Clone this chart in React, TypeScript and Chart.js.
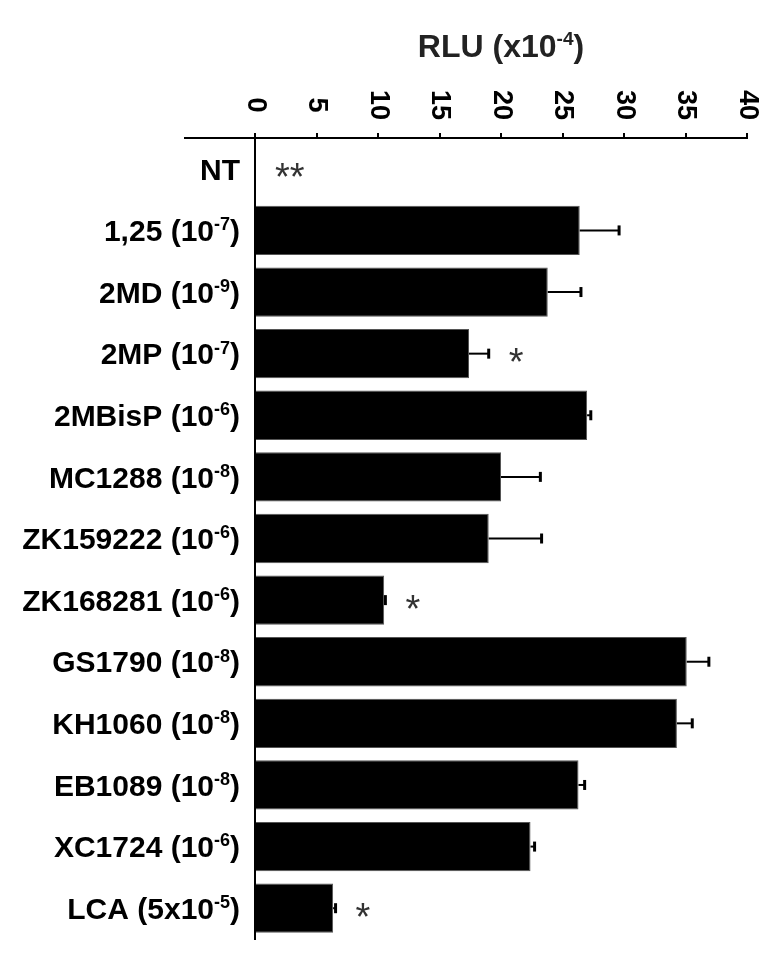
import React, { useEffect, useRef } from "react";
import { Chart, registerables } from "chart.js";

Chart.register(...registerables);

// ---- data ----
const categories = [
  "NT",
  "1,25 (10^{-7})",
  "2MD (10^{-9})",
  "2MP (10^{-7})",
  "2MBisP (10^{-6})",
  "MC1288 (10^{-8})",
  "ZK159222 (10^{-6})",
  "ZK168281 (10^{-6})",
  "GS1790 (10^{-8})",
  "KH1060 (10^{-8})",
  "EB1089 (10^{-8})",
  "XC1724 (10^{-6})",
  "LCA (5x10^{-5})",
];
const rluValues = [0, 26.4, 23.8, 17.4, 27.0, 20.0, 19.0, 10.5, 35.1, 34.3, 26.3, 22.4, 6.35];
const rluErrors = [0, 3.2, 2.7, 1.6, 0.3, 3.2, 4.3, 0.1, 1.8, 1.25, 0.5, 0.33, 0.2];
const significance = ["**", "", "", "*", "", "", "", "*", "", "", "", "", "*"];
const xTickValues = [0, 5, 10, 15, 20, 25, 30, 35, 40];
const axisTitle = "RLU (x10^{-4})";

const FONT = '"Liberation Sans", Arial, Helvetica, sans-serif';

type Part = { t: string; sup: boolean };
function parseRich(s: string): Part[] {
  const parts: Part[] = [];
  const re = /\^\{([^}]*)\}/g;
  let last = 0;
  let m: RegExpExecArray | null;
  while ((m = re.exec(s))) {
    if (m.index > last) parts.push({ t: s.slice(last, m.index), sup: false });
    parts.push({ t: m[1], sup: true });
    last = re.lastIndex;
  }
  if (last < s.length) parts.push({ t: s.slice(last), sup: false });
  return parts;
}

function drawRich(
  ctx: CanvasRenderingContext2D,
  s: string,
  x: number,
  y: number,
  size: number,
  align: "left" | "right" | "center",
  color: string
) {
  const parts = parseRich(s);
  const nf = `bold ${size}px ${FONT}`;
  const sf = `bold ${Math.round(size * 0.6)}px ${FONT}`;
  const widths = parts.map((p) => {
    ctx.font = p.sup ? sf : nf;
    return ctx.measureText(p.t).width;
  });
  const total = widths.reduce((a, b) => a + b, 0);
  let cx = align === "right" ? x - total : align === "center" ? x - total / 2 : x;
  ctx.fillStyle = color;
  ctx.textAlign = "left";
  ctx.textBaseline = "alphabetic";
  parts.forEach((p, i) => {
    ctx.font = p.sup ? sf : nf;
    ctx.fillText(p.t, cx, p.sup ? y - size * 0.36 : y);
    cx += widths[i];
  });
}

const annotPlugin = {
  id: "annot",
  afterDatasetsDraw(chart: any) {
    const { ctx, scales } = chart;
    const xs = scales.x;
    const ys = scales.y;
    ctx.save();
    ctx.strokeStyle = "#000";
    rluValues.forEach((v, i) => {
      const e = rluErrors[i];
      if (!e) return;
      const yc = ys.getPixelForValue(i);
      const x0 = xs.getPixelForValue(v);
      const x1 = xs.getPixelForValue(v + e);
      ctx.lineWidth = 2;
      ctx.beginPath();
      ctx.moveTo(x0, yc);
      ctx.lineTo(x1, yc);
      ctx.stroke();
      ctx.lineWidth = 3;
      ctx.beginPath();
      ctx.moveTo(x1, yc - 5);
      ctx.lineTo(x1, yc + 5);
      ctx.stroke();
    });
    // significance marks
    ctx.font = `38px ${FONT}`;
    ctx.fillStyle = "#333";
    ctx.textAlign = "left";
    ctx.textBaseline = "alphabetic";
    significance.forEach((s, i) => {
      if (!s) return;
      const yc = ys.getPixelForValue(i);
      const xe = xs.getPixelForValue(rluValues[i] + rluErrors[i]);
      const m = ctx.measureText(s);
      const asc = m.actualBoundingBoxAscent;
      const desc = m.actualBoundingBoxDescent;
      const base = yc + 1.5 + (asc - desc) / 2;
      const left = xe + 20 + (m.actualBoundingBoxLeft || 0);
      ctx.fillText(s, left, base);
    });
    ctx.restore();
  },
  afterDraw(chart: any) {
    const { ctx, chartArea, scales } = chart;
    const xs = scales.x;
    const ys = scales.y;
    ctx.save();
    // extension of the x axis line to the left
    ctx.strokeStyle = "#000";
    ctx.lineWidth = 2;
    ctx.beginPath();
    ctx.moveTo(184, chartArea.top);
    ctx.lineTo(chartArea.left, chartArea.top);
    ctx.stroke();

    // x tick labels, rotated clockwise
    ctx.fillStyle = "#000";
    ctx.font = `bold 27px ${FONT}`;
    ctx.textAlign = "center";
    ctx.textBaseline = "middle";
    xTickValues.forEach((v) => {
      const px = xs.getPixelForValue(v);
      ctx.save();
      ctx.translate(px, 105);
      ctx.rotate(Math.PI / 2);
      ctx.fillText(String(v), 0, 0);
      ctx.restore();
    });

    // y category labels
    categories.forEach((c, i) => {
      const yc = ys.getPixelForValue(i);
      drawRich(ctx, c, 240, yc + 10.7, 30, "right", "#000");
    });

    // axis title
    drawRich(ctx, axisTitle, (chartArea.left + chartArea.right) / 2, 57, 32, "center", "#222");
    ctx.restore();
  },
};

export default function App() {
  const ref = useRef<HTMLCanvasElement | null>(null);
  useEffect(() => {
    if (!ref.current) return;
    const chart = new Chart(ref.current, {
      type: "bar",
      data: {
        labels: categories,
        datasets: [
          {
            data: rluValues,
            backgroundColor: "#000",
            borderColor: "#555",
            borderWidth: (c: any) => (c.raw === 0 ? 0 : 1),
            barPercentage: 0.8,
            categoryPercentage: 1,
          },
        ],
      },
      options: {
        indexAxis: "y",
        animation: false,
        responsive: true,
        maintainAspectRatio: false,
        layout: { padding: { top: 0, left: 0, right: 35, bottom: 23 } },
        plugins: {
          legend: { display: false },
          tooltip: { enabled: false },
          title: { display: false },
        },
        scales: {
          x: {
            position: "top",
            min: 0,
            max: 40,
            ticks: { display: false, stepSize: 5 },
            grid: {
              display: true,
              drawOnChartArea: false,
              drawTicks: true,
              tickLength: 5,
              color: "#000",
              lineWidth: 2,
            },
            border: { display: true, color: "#000", width: 2 },
            afterFit: (s: any) => {
              s.height = 138;
            },
          },
          y: {
            ticks: { display: false },
            grid: { display: true, drawOnChartArea: false, drawTicks: false, color: "#000" },
            border: { display: true, color: "#000", width: 2 },
            afterFit: (s: any) => {
              s.width = 255;
            },
          },
        },
      },
      plugins: [annotPlugin],
    } as any);
    return () => chart.destroy();
  }, []);
  return (
    <div
      style={{
        position: "fixed",
        left: 0,
        top: 0,
        width: 782,
        height: 962,
        background: "#fff",
      }}
    >
      <canvas ref={ref} style={{ display: "block" }} />
    </div>
  );
}
